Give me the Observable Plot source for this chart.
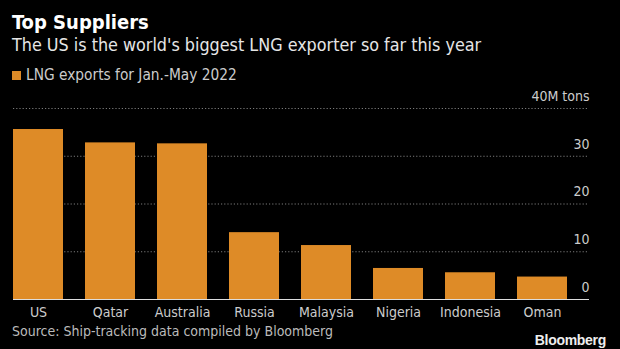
<!DOCTYPE html>
<html>
<head>
<meta charset="utf-8">
<script src="https://cdn.jsdelivr.net/npm/d3@7"></script>
<script src="https://cdn.jsdelivr.net/npm/@observablehq/plot@0.6"></script>
<style>
  html, body { margin: 0; padding: 0; background: #000; }
  #wrap { position: relative; width: 620px; height: 349px; background: #000; overflow: hidden;
          font-family: "DejaVu Sans Condensed", "DejaVu Sans", sans-serif; color: #ddd; }
  #title { position: absolute; left: 12px; top: 10px; font-size: 20px; font-weight: bold; color: #fff; }
  #subtitle { position: absolute; left: 12px; top: 34px; font-size: 17.8px; color: #e6e6e6; }
  #legend { position: absolute; left: 12px; top: 66px; font-size: 15.3px; color: #ccc; display: flex; align-items: center; z-index: 2; }
  #legend .sw { width: 9px; height: 9px; margin-right: 5px; }
  #chart { position: absolute; left: 0; top: 86px; z-index: 1; }
  #source { position: absolute; left: 12px; top: 323px; font-size: 14px; color: #bbb; z-index: 2; }
  #logo { position: absolute; right: 14px; top: 332px; font-size: 14px; font-weight: bold; color: #eee; z-index: 2;
          font-family: "Liberation Sans", Arial, sans-serif; letter-spacing: -0.3px; }
</style>
</head>
<body>
<div id="wrap">
  <div id="title">Top Suppliers</div>
  <div id="subtitle">The US is the world's biggest LNG exporter so far this year</div>
  <div id="legend"><span class="sw" id="sw"></span><span id="legendText"></span></div>
  <div id="chart"></div>
  <div id="source">Source: Ship-tracking data compiled by Bloomberg</div>
  <div id="logo">Bloomberg</div>
</div>
<script>
const countries = ["US", "Qatar", "Australia", "Russia", "Malaysia", "Nigeria", "Indonesia", "Oman"];
const exports2022 = [35.6, 32.8, 32.6, 14.0, 11.3, 6.5, 5.6, 4.7];
const yTicks = [0, 10, 20, 30, 40];
const seriesName = "LNG exports for Jan.-May 2022";
const barColor = "#DE8B27";

document.getElementById("sw").style.background = barColor;
document.getElementById("legendText").textContent = seriesName;

const data = countries.map((c, i) => ({country: c, value: exports2022[i]}));

const chart = Plot.plot({
  width: 620,
  height: 238,
  marginTop: 22,
  marginBottom: 25,
  marginLeft: 13,
  marginRight: 31,
  style: {background: "transparent", color: "#ccc", fontSize: "14px", fontFamily: "'DejaVu Sans Condensed', 'DejaVu Sans', sans-serif"},
  x: {domain: countries, paddingInner: 0.306, paddingOuter: 0, insetRight: 22, label: null},
  y: {domain: [0, 40], label: null},
  marks: [
    Plot.gridY(yTicks, {stroke: "#7a7a7a", strokeOpacity: 1, strokeDasharray: "1.2,2"}),
    Plot.barY(data, {x: "country", y: "value", fill: barColor}),
    Plot.ruleY([0], {stroke: "#ddd", strokeWidth: 1.2}),
    Plot.axisX({tickSize: 0, tickPadding: 8, fill: "#ccc", fontSize: 14}),
    Plot.axisY(yTicks, {anchor: "right", tickSize: 0, tickPadding: 0, textAnchor: "end", dy: -12, fill: "#ccc", fontSize: 14,
      tickFormat: d => d === 40 ? "40M tons" : String(d)})
  ]
});
document.getElementById("chart").appendChild(chart);
</script>
</body>
</html>
